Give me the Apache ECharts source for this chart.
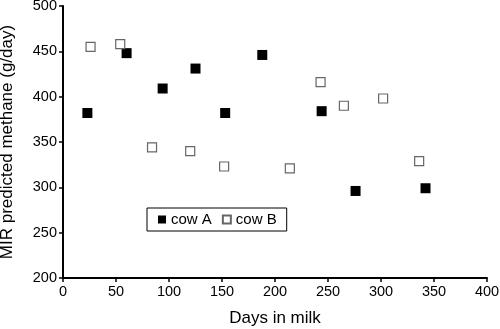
<!DOCTYPE html>
<html>
<head>
<meta charset="utf-8">
<script src="https://cdn.jsdelivr.net/npm/echarts@6/dist/echarts.min.js"></script>
</head>
<body style="margin:0">
<div id="main" style="width:500px;height:329px;"></div>
<script>
// cow A (filled squares) : [days in milk, predicted methane]
var cowA = [[23, 382], [60, 448], [94, 409], [125, 431], [153, 382], [188, 446], [244, 384], [276, 296], [342, 299]];
// cow B (open squares)
var cowB = [[26, 455], [54, 458], [84, 344], [120, 340], [152, 323], [214, 321], [243, 416], [265, 390], [302, 398], [336, 329]];
var xTicks = [0, 400, 50];
var yTicks = [200, 500, 50];

var font = 'Liberation Sans, Arial, sans-serif';
var chart = echarts.init(document.getElementById('main'), null, {renderer: 'canvas'});

chart.setOption({
	animation: false,
	backgroundColor: '#fff',
	grid: {left: 63, right: 13, top: 6, bottom: 51, containLabel: false, outerBoundsMode: 'none'},
	legend: {
		left: 147, top: 208,
		borderColor: '#000', borderWidth: 1,
		padding: [4, 10, 4, 11],
		itemGap: 10, itemWidth: 8, itemHeight: 8,
		textStyle: {fontFamily: font, fontSize: 15, color: '#000'},
		data: [{name: 'cow A', icon: 'rect'}, {name: 'cow B', icon: 'rect'}]
	},
	xAxis: {
		type: 'value', min: xTicks[0], max: xTicks[1], interval: xTicks[2],
		name: 'Days in milk', nameLocation: 'middle', nameGap: 32,
		nameTextStyle: {fontFamily: font, fontSize: 17, color: '#000'},
		axisLine: {lineStyle: {color: '#000', width: 2}},
		axisTick: {length: 4, lineStyle: {color: '#000', width: 1.5}},
		axisLabel: {fontFamily: font, fontSize: 14.5, color: '#000', margin: 6},
		splitLine: {show: false}
	},
	yAxis: {
		type: 'value', min: yTicks[0], max: yTicks[1], interval: yTicks[2],
		name: 'MIR predicted methane (g/day)', nameLocation: 'middle', nameGap: 47,
		nameTextStyle: {fontFamily: font, fontSize: 17, color: '#000'},
		axisLine: {show: true, lineStyle: {color: '#000', width: 2}},
		axisTick: {show: true, length: 4, lineStyle: {color: '#000', width: 1.5}},
		axisLabel: {fontFamily: font, fontSize: 14.5, color: '#000', margin: 6},
		splitLine: {show: false}
	},
	series: [
		{
			name: 'cow A', type: 'scatter', symbol: 'rect', symbolSize: 10,
			itemStyle: {color: '#000', opacity: 1},
			data: cowA
		},
		{
			name: 'cow B', type: 'scatter', symbol: 'rect', symbolSize: 9,
			itemStyle: {color: '#fff', borderColor: '#666', borderWidth: 1.2, opacity: 1},
			data: cowB
		}
	]
});
</script>
</body>
</html>
